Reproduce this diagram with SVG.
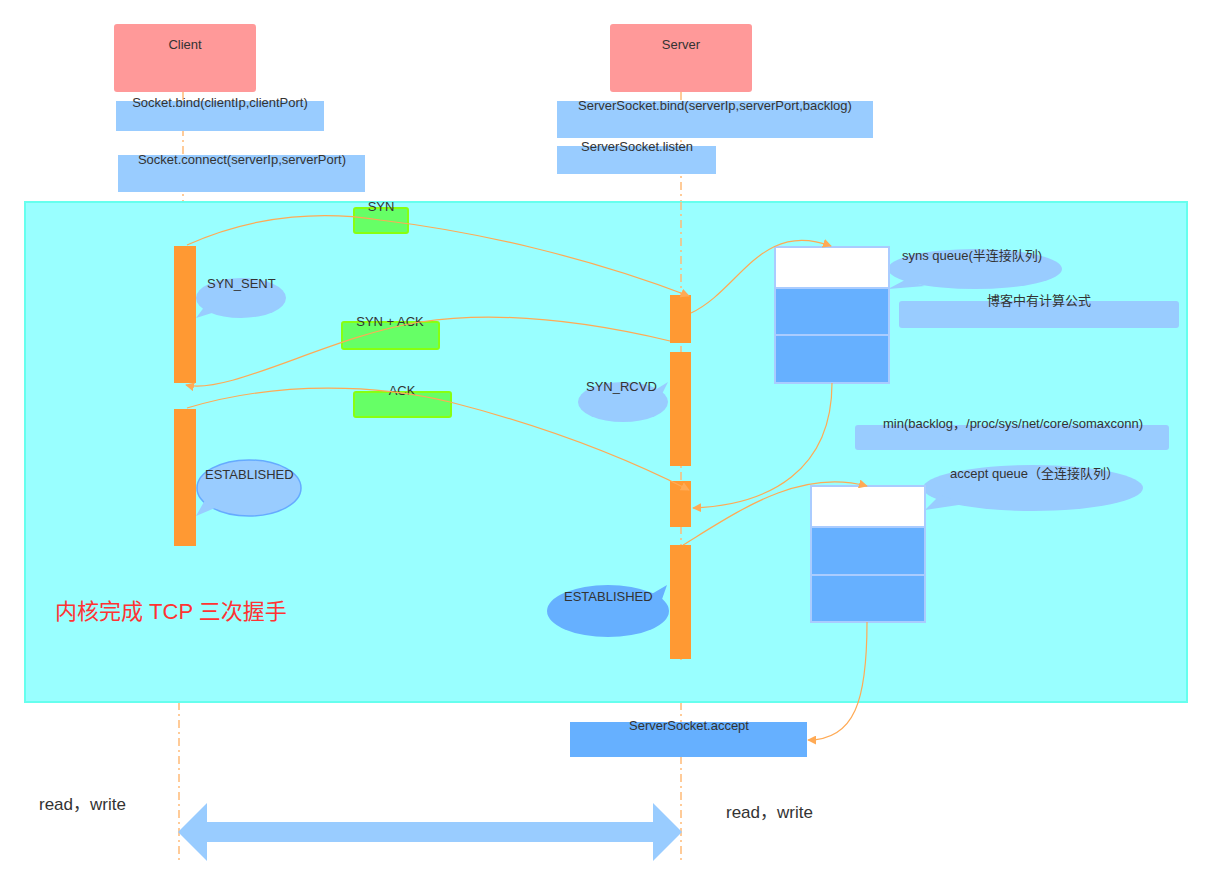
<svg xmlns="http://www.w3.org/2000/svg" width="1212" height="891" viewBox="0 0 1212 891">
<style>
text{font-family:"Liberation Sans",Arial,"Noto Sans CJK SC",sans-serif;font-size:13px;fill:#333}
.hdr{fill:#ff9999}
.lbl{fill:#99ccff}
.bar{fill:#ff9933}
.msg{fill:#66ff66;stroke:#88ff11;stroke-width:2}
.bub{fill:#99ccff}
.qw{fill:#fff;stroke:#aaccff;stroke-width:2}
.qb{fill:#66b0ff;stroke:#aaccff;stroke-width:2}
.life{stroke:#ffbb77;stroke-width:1.5;stroke-dasharray:8 4 2 4;fill:none}
.con{fill:none;stroke:#ffaa55;stroke-width:1.2;marker-end:url(#ah)}
</style>
<defs>
<marker id="ah" viewBox="0 0 10 10" refX="9" refY="5" markerWidth="9" markerHeight="9" orient="auto" markerUnits="userSpaceOnUse"><path d="M0,0L10,5L0,10z" fill="#ffaa55"/></marker>
</defs>
<rect width="1212" height="891" fill="#fff"/>
<g id="lifelines">
<line class="life" x1="183" y1="92" x2="183" y2="202"/>
<line class="life" x1="179" y1="702" x2="179" y2="860"/>
<line class="life" x1="681" y1="92" x2="681" y2="202"/>
<line class="life" x1="681" y1="702" x2="681" y2="860"/>
</g>
<g id="kernel"><rect x="25" y="202" width="1162" height="500" fill="#99ffff" stroke="#66ffee" stroke-width="2"/>
<line class="life" x1="681" y1="202" x2="681" y2="660"/></g>
<g id="client"><rect class="hdr" x="114" y="24" width="142" height="68" rx="3"/><text x="185" y="49" text-anchor="middle">Client</text></g>
<g id="server"><rect class="hdr" x="610" y="24" width="142" height="68" rx="3"/><text x="681" y="49" text-anchor="middle">Server</text></g>
<g id="cbind"><rect class="lbl" x="116" y="101" width="208" height="30"/><text x="220" y="107" text-anchor="middle">Socket.bind(clientIp,clientPort)</text></g>
<g id="cconnect"><rect class="lbl" x="118" y="155" width="247" height="37"/><text x="242" y="164" text-anchor="middle">Socket.connect(serverIp,serverPort)</text></g>
<g id="sbind"><rect class="lbl" x="557" y="101" width="316" height="37"/><text x="715" y="110" text-anchor="middle">ServerSocket.bind(serverIp,serverPort,backlog)</text></g>
<g id="slisten"><rect class="lbl" x="557" y="146" width="159" height="28"/><text x="637" y="151" text-anchor="middle">ServerSocket.listen</text></g>
<g id="bars">
<rect class="bar" x="174" y="246" width="22" height="137"/>
<rect class="bar" x="174" y="409" width="22" height="137"/>
<rect class="bar" x="670" y="295" width="21" height="48"/>
<rect class="bar" x="670" y="352" width="21" height="114"/>
<rect class="bar" x="670" y="481" width="21" height="46"/>
<rect class="bar" x="670" y="545" width="21" height="114"/>
</g>
<g id="bubbles">
<g id="b-synsent"><ellipse class="bub" cx="241" cy="298" rx="45" ry="20"/><path d="M205,306 L196,318 L215,312z" class="bub"/><text x="207" y="288">SYN_SENT</text></g>
<g id="b-est1"><ellipse class="bub" cx="249" cy="488" rx="52" ry="28" stroke="#66aaff" stroke-width="1.5"/><path d="M205,500 L196,516 L215,508z" class="bub"/><text x="205" y="479">ESTABLISHED</text></g>
<g id="b-synrcvd"><ellipse class="bub" cx="623" cy="402" rx="45" ry="20"/><path d="M655,390 L668,382 L660,398z" class="bub"/><text x="586" y="391">SYN_RCVD</text></g>
<g id="b-est2"><ellipse cx="608" cy="611" rx="61" ry="26" fill="#66b0ff"/><path d="M650,595 L667,585 L660,605z" fill="#66b0ff"/><text x="564" y="601">ESTABLISHED</text></g>
<g id="b-syns"><ellipse class="bub" cx="975" cy="269" rx="87" ry="20"/><path d="M905,280 L888,289 L925,286z" class="bub"/><text x="902" y="260">syns queue(半连接队列)</text></g>
<g id="b-accept"><ellipse class="bub" cx="1033" cy="488" rx="110" ry="23"/><path d="M940,495 L925,510 L965,504z" class="bub"/><text x="950" y="478">accept queue（全连接队列）</text></g>
</g>
<g id="blog"><rect class="lbl" x="899" y="301" width="280" height="27" rx="3"/><text x="1039" y="305" text-anchor="middle">博客中有计算公式</text></g>
<g id="min"><rect class="lbl" x="855" y="425" width="314" height="25" rx="3"/><text x="1013" y="428" text-anchor="middle">min(backlog，/proc/sys/net/core/somaxconn)</text></g>
<g id="q1"><rect class="qw" x="775" y="247" width="114" height="41"/><rect class="qb" x="775" y="288" width="114" height="47"/><rect class="qb" x="775" y="335" width="114" height="48"/></g>
<g id="q2"><rect class="qw" x="811" y="486" width="114" height="41"/><rect class="qb" x="811" y="527" width="114" height="48"/><rect class="qb" x="811" y="575" width="114" height="47"/></g>
<g id="msgs">
<g id="m-syn"><rect class="msg" x="354" y="208" width="54" height="25" rx="2"/><text x="381" y="211" text-anchor="middle">SYN</text></g>
<g id="m-synack"><rect class="msg" x="342" y="322" width="97" height="27" rx="2"/><text x="390" y="326" text-anchor="middle">SYN + ACK</text></g>
<g id="m-ack"><rect class="msg" x="354" y="392" width="97" height="25" rx="2"/><text x="402" y="395" text-anchor="middle">ACK</text></g>
</g>
<g id="connectors">
<path class="con" d="M187,245 C260,212 330,212 380,220 C480,232 590,258 689,296"/>
<path class="con" d="M670,341 C590,322 500,310 420,322 C330,336 230,395 186,385"/>
<path class="con" d="M187,408 C280,380 380,385 450,402 C540,425 620,455 689,490"/>
<path class="con" d="M691,313 C740,290 760,220 831,246"/>
<path class="con" d="M832,383 C832,470 770,505 693,508"/>
<path class="con" d="M683,545 C740,510 800,468 867,486"/>
<path class="con" d="M867,622 C867,700 855,740 808,740"/>
</g>
<g id="accept"><rect x="570" y="722" width="237" height="35" fill="#66b0ff"/><text x="689" y="730" text-anchor="middle">ServerSocket.accept</text></g>
<text x="55" y="619" style="font-size:22px;fill:#ff3333">内核完成 TCP 三次握手</text>
<text x="39" y="810" style="font-size:17px">read，write</text>
<text x="726" y="818" style="font-size:17px">read，write</text>
<g id="rw"><path d="M178,832 L207,803 L207,822 L653,822 L653,803 L682,832 L653,861 L653,842 L207,842 L207,861z" fill="#99ccff"/></g>
</svg>
